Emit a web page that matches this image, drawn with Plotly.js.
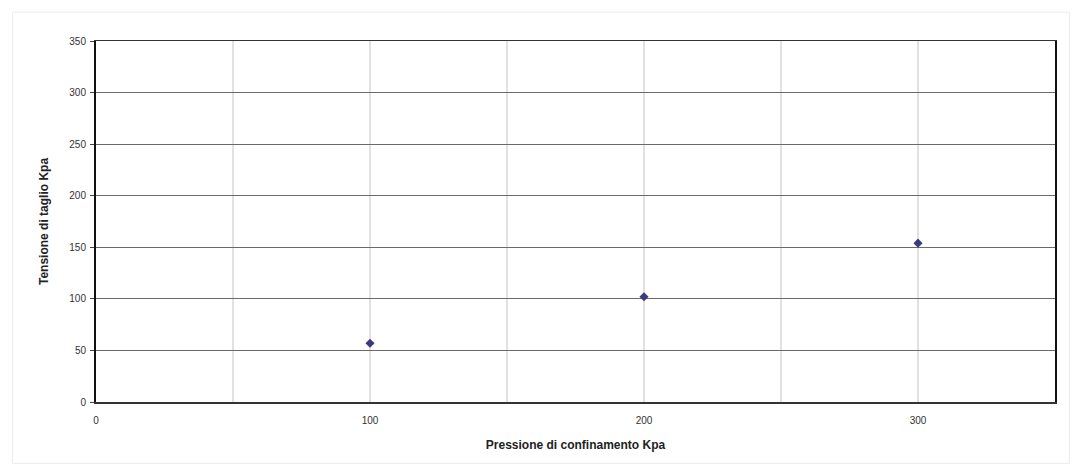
<!DOCTYPE html>
<html>
<head>
<meta charset="utf-8">
<script src="https://cdn.plot.ly/plotly-3.0.1.min.js"></script>
<style>html,body{margin:0;padding:0;background:#fff;}#chart{width:1072px;height:471px;}</style>
</head>
<body>
<div id="chart"></div>
<script>
const pressione = [100, 200, 300];
const tensione = [57, 102, 154];
const xTicks = [0, 100, 200, 300];
const yTicks = [0, 50, 100, 150, 200, 250, 300, 350];

const trace = {
  x: pressione,
  y: tensione,
  type: 'scatter',
  mode: 'markers',
  marker: {symbol: 'diamond', size: 7, color: '#3a3a7e'},
  showlegend: false,
  hoverinfo: 'x+y'
};

const vlines = [];
for (let v = 50; v < 350; v += 50) {
  vlines.push({type: 'line', xref: 'x', yref: 'paper', x0: v, x1: v, y0: 0, y1: 1,
    line: {color: '#c4c4c4', width: 1}, layer: 'below'});
}

const layout = {
  width: 1072, height: 471,
  margin: {l: 96, r: 17, t: 41, b: 69},
  paper_bgcolor: '#ffffff',
  plot_bgcolor: '#ffffff',
  font: {family: 'Arial, "Liberation Sans", sans-serif', color: '#222', size: 10},
  xaxis: {
    range: [0, 350],
    tickvals: xTicks,
    ticktext: xTicks.map(String),
    showgrid: false,
    zeroline: false,
    showline: true, linecolor: '#333', linewidth: 1.5, mirror: true,
    ticks: '', ticklen: 0,
    ticklabelstandoff: 8,
    tickfont: {size: 10, color: '#333'},
    title: {text: '<b>Pressione di confinamento Kpa</b>', font: {size: 12, color: '#222'}, standoff: 16}
  },
  yaxis: {
    range: [0, 350],
    tickvals: yTicks,
    ticktext: yTicks.map(String),
    showgrid: true, gridcolor: '#6a6a6a', gridwidth: 1,
    zeroline: false,
    showline: true, linecolor: '#111', linewidth: 2, mirror: true,
    ticks: 'outside', ticklen: 4, tickcolor: '#444',
    ticklabelstandoff: 2,
    tickfont: {size: 10, color: '#333'},
    title: {text: '<b>Tensione di taglio Kpa</b>', font: {size: 12, color: '#222'}, standoff: 18}
  },
  shapes: vlines.concat([
    {type: 'rect', xref: 'paper', yref: 'paper', x0: -0.087, x1: 1.015, y0: -0.17, y1: 1.08,
      line: {color: '#ececec', width: 1}, layer: 'below'}
  ])
};

Plotly.newPlot('chart', [trace], layout, {displayModeBar: false, staticPlot: true});
</script>
</body>
</html>
